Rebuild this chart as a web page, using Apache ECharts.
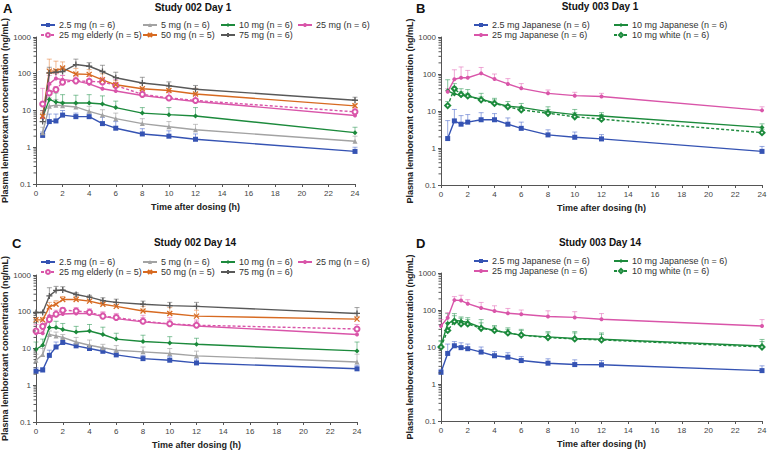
<!DOCTYPE html>
<html>
<head>
<meta charset="utf-8">
<title>Lemborexant PK</title>
<script src="https://cdn.jsdelivr.net/npm/echarts@6/dist/echarts.min.js"></script>
<style>
    html, body { margin: 0; padding: 0; background: #fff; }
    #chart { width: 767px; height: 450px; }
</style>
</head>
<body>
<div id="chart"></div>
<script>
// sampling times (h)
const timesDay1 = [0.5, 1, 1.5, 2, 3, 4, 5, 6, 8, 10, 12, 24];
const timesDay14 = [0, 0.5, 1, 1.5, 2, 3, 4, 5, 6, 8, 10, 12, 24];

const yTickLabels = ['0.1', '1', '10', '100', '1000'];

// Study 002 Day 1 (mean, upper error bar)
const s002d1Mg2_5 = [2.1, 5.0, 5.2, 7.5, 6.8, 6.8, 4.4, 3.3, 2.3, 2.0, 1.65, 0.77];
const s002d1Mg2_5Hi = [2.6, 8, 8, 10, 8.5, 8.5, 6.5, 5, 3.2, 2.8, 2.3, 1.0];
const s002d1Mg5 = [2.5, 13, 14, 13.5, 12.5, 9.5, 7.5, 6, 4.4, 3.6, 3.0, 1.45];
const s002d1Mg5Hi = [3.5, 22, 20, 17, 15, 13, 10.5, 8.5, 6, 5, 4.2, 2.0];
const s002d1Mg10 = [6.5, 20, 17, 16, 16, 16, 15, 12, 8.5, 7.7, 7.1, 2.5];
const s002d1Mg10Hi = [8, 35, 30, 27, 26, 27, 25, 18, 12, 12, 12, 3.5];
const s002d1Mg25 = [6.5, 53, 74, 69, 64, 53, 39, 34, 25.6, 21, 17.6, 7.3];
const s002d1Mg25Hi = [10, 90, 100, 90, 80, 70, 55, 50, 37, 33, 27, 9];
const s002d1Mg25Eld = [15, 30, 37, 59, 64, 62, 60, 48, 27.5, 22, 18.7, 9.2];
const s002d1Mg25EldHi = [40, 50, 45, 90, 90, 85, 80, 70, 40, 32, 28, 12];
const s002d1Mg50 = [7, 118, 120, 143, 98, 96, 68, 50, 39, 35, 28, 13.4];
const s002d1Mg50Hi = [9, 250, 220, 210, 140, 130, 100, 65, 55, 48, 40, 15];
const s002d1Mg75 = [5, 105, 110, 115, 178, 160, 115, 78, 56, 47, 38, 19];
const s002d1Mg75Hi = [10, 150, 130, 150, 250, 200, 170, 110, 80, 60, 48, 23];

// Study 003 Day 1
const s003d1Jp2_5 = [1.8, 5.4, 4.4, 5.0, 5.8, 5.8, 4.4, 3.4, 2.26, 1.95, 1.76, 0.81];
const s003d1Jp2_5Hi = [5.5, 11, 7.5, 8, 9, 8.5, 6.5, 5, 3.1, 2.7, 2.3, 1.1];
const s003d1Jp10 = [35, 29, 26.5, 25.5, 21, 16.5, 13.5, 12.5, 9.6, 8, 7.3, 3.6];
const s003d1Jp10Hi = [70, 45, 40, 38, 30, 22, 18, 16, 13, 11, 9, 4.5];
const s003d1Jp25 = [33, 72, 79, 79, 104, 73, 54, 41, 30, 26, 24.6, 10.4];
const s003d1Jp25Hi = [40, 130, 155, 125, 150, 100, 75, 55, 37, 32, 30, 13];
const s003d1Wh10 = [14, 40, 28, 25.5, 20, 16, 13, 10.7, 8.7, 7, 6.0, 2.6];
const s003d1Wh10Hi = [18, 55, 33, 30, 24, 20, 15, 13, 11, 9, 8, 3.2];

// Study 002 Day 14
const s002d14Mg2_5 = [2.4, 2.6, 6.5, 11, 14.6, 11.8, 10, 8.4, 6.7, 5.3, 4.8, 4.05, 2.8];
const s002d14Mg2_5Hi = [3, 3, 9, 15, 19, 14, 12, 10, 8.5, 6.5, 6, 5.2, 3.5];
const s002d14Mg5 = [4.8, 6.9, 24, 22, 20, 15, 12.3, 10.5, 9, 8.1, 7.3, 6.3, 4.3];
const s002d14Mg5Hi = [7, 10, 30, 28, 24, 20, 17, 13, 12, 11, 10, 8.5, 7];
const s002d14Mg10 = [9.4, 12.3, 37, 37, 33, 28, 30, 24, 18, 15.5, 14.2, 13, 8.6];
const s002d14Mg10Hi = [15, 18, 60, 55, 48, 40, 45, 38, 26, 23, 21, 19, 15];
const s002d14Mg25 = [26, 26, 76, 80, 87, 90, 89, 75, 65, 53, 46, 41, 24];
const s002d14Mg25Hi = [30, 30, 120, 110, 110, 105, 105, 95, 85, 70, 60, 55, 30];
const s002d14Mg25Eld = [30, 40, 62, 86, 110, 105, 97, 76, 70, 55, 47, 43, 34];
const s002d14Mg25EldHi = [45, 55, 80, 95, 130, 130, 120, 100, 90, 80, 70, 60, 45];
const s002d14Mg50 = [60, 60, 135, 160, 215, 215, 195, 160, 140, 105, 90, 76, 63];
const s002d14Mg50Hi = [70, 70, 180, 200, 260, 260, 250, 200, 180, 140, 130, 110, 75];
const s002d14Mg75 = [95, 95, 270, 380, 390, 295, 250, 200, 180, 160, 147, 140, 90];
const s002d14Mg75Hi = [100, 100, 450, 490, 480, 330, 280, 240, 220, 195, 180, 180, 130];

// Study 003 Day 14
const s003d14Jp2_5 = [2.07, 6.7, 10.8, 9.6, 9.0, 7.3, 5.8, 5.3, 4.3, 3.65, 3.35, 3.3, 2.3];
const s003d14Jp2_5Hi = [2.5, 12, 14, 13, 12, 10, 7.5, 7, 5.5, 4.8, 4.5, 4.3, 3.1];
const s003d14Jp10 = [10.6, 43, 53, 50, 46, 34, 28, 24, 21, 18.8, 17, 16.2, 10.6];
const s003d14Jp10Hi = [15, 80, 80, 65, 62, 55, 38, 33, 30, 26, 26, 24, 16];
const s003d14Jp25 = [37, 62, 185, 180, 148, 113, 94, 82, 77, 67, 63, 56, 37];
const s003d14Jp25Hi = [55, 85, 230, 250, 190, 160, 130, 110, 100, 95, 90, 80, 55];
const s003d14Wh10 = [10, 28, 49, 42, 42, 32, 28, 24, 21, 18, 16.5, 15.5, 10];
const s003d14Wh10Hi = [14, 45, 70, 60, 55, 45, 35, 30, 28, 24, 24, 22, 14];

// legend names
const n002 = ['2.5 mg (n = 6)', '5 mg (n = 6)', '10 mg (n = 6)', '25 mg (n = 6)',
    '25 mg elderly (n = 5)', '50 mg (n = 5)', '75 mg (n = 6)'];
const n003 = ['2.5 mg Japanese (n = 6)', '10 mg Japanese (n = 6)',
    '25 mg Japanese (n = 6)', '10 mg white (n = 6)'];

const FONT = 'Liberation Sans, Arial, sans-serif';

const styles = {
    blue: { color: '#3553b3', err: 'rgba(70, 100, 200, 0.55)', symbol: 'rect', size: 5 },
    gray: { color: '#a3a3a3', err: 'rgba(150, 150, 150, 0.55)', symbol: 'triangle', size: 5 },
    green: { color: '#1c8a3c', err: 'rgba(40, 150, 80, 0.55)', symbol: 'diamond', size: 5 },
    pink: { color: '#d955a9', err: 'rgba(225, 100, 180, 0.55)', symbol: 'circle', size: 4 },
    pinkOpen: { color: '#d955a9', err: 'rgba(225, 100, 180, 0.55)', symbol: 'emptyCircle', size: 5, dashed: true },
    orange: { color: '#d76a21', err: 'rgba(230, 130, 60, 0.55)', symbol: 'path://M0,0L10,10M10,0L0,10', size: 5, stroke: true },
    dark: { color: '#595959', err: 'rgba(90, 90, 90, 0.55)', symbol: 'path://M0,5L10,5M5,2L5,8', size: 6, stroke: true },
    greenOpen: { color: '#1c8a3c', err: 'rgba(40, 150, 80, 0.55)', symbol: 'emptyDiamond', size: 5, dashed: true }
};

// panel layout
const panels = [
    { left: 36, top: 37, width: 319, height: 147, letter: 'A', lx: 3, ly: 8, title: 'Study 002 Day 1', tx: 193, ty: 7 },
    { left: 441, top: 37, width: 321, height: 148, letter: 'B', lx: 416, ly: 8, title: 'Study 003 Day 1', tx: 600, ty: 6 },
    { left: 36, top: 275, width: 321, height: 147, letter: 'C', lx: 12, ly: 243, title: 'Study 002 Day 14', tx: 195, ty: 242 },
    { left: 441, top: 273, width: 321, height: 148, letter: 'D', lx: 416, ly: 243, title: 'Study 003 Day 14', tx: 600, ty: 242 }
];

const panelSeries = [
    [
        [n002[0], s002d1Mg2_5, s002d1Mg2_5Hi, 'blue'],
        [n002[1], s002d1Mg5, s002d1Mg5Hi, 'gray'],
        [n002[2], s002d1Mg10, s002d1Mg10Hi, 'green'],
        [n002[3], s002d1Mg25, s002d1Mg25Hi, 'pink'],
        [n002[4], s002d1Mg25Eld, s002d1Mg25EldHi, 'pinkOpen'],
        [n002[5], s002d1Mg50, s002d1Mg50Hi, 'orange'],
        [n002[6], s002d1Mg75, s002d1Mg75Hi, 'dark']
    ],
    [
        [n003[0], s003d1Jp2_5, s003d1Jp2_5Hi, 'blue'],
        [n003[1], s003d1Jp10, s003d1Jp10Hi, 'green'],
        [n003[2], s003d1Jp25, s003d1Jp25Hi, 'pink'],
        [n003[3], s003d1Wh10, s003d1Wh10Hi, 'greenOpen']
    ],
    [
        [n002[0], s002d14Mg2_5, s002d14Mg2_5Hi, 'blue'],
        [n002[1], s002d14Mg5, s002d14Mg5Hi, 'gray'],
        [n002[2], s002d14Mg10, s002d14Mg10Hi, 'green'],
        [n002[3], s002d14Mg25, s002d14Mg25Hi, 'pink'],
        [n002[4], s002d14Mg25Eld, s002d14Mg25EldHi, 'pinkOpen'],
        [n002[5], s002d14Mg50, s002d14Mg50Hi, 'orange'],
        [n002[6], s002d14Mg75, s002d14Mg75Hi, 'dark']
    ],
    [
        [n003[0], s003d14Jp2_5, s003d14Jp2_5Hi, 'blue'],
        [n003[1], s003d14Jp10, s003d14Jp10Hi, 'green'],
        [n003[2], s003d14Jp25, s003d14Jp25Hi, 'pink'],
        [n003[3], s003d14Wh10, s003d14Wh10Hi, 'greenOpen']
    ]
];
const panelTimes = [timesDay1, timesDay1, timesDay14, timesDay14];

// legend columns: [left, top, names]
const legendCols = [
    [40, 20, [n002[0], n002[4]]], [142, 20, [n002[1], n002[5]]],
    [220, 20, [n002[2], n002[6]]], [297, 20, [n002[3]]],
    [473, 20, [n003[0], n003[2]]], [613, 20, [n003[1], n003[3]]],
    [40, 257, [n002[0], n002[4]]], [142, 257, [n002[1], n002[5]]],
    [220, 257, [n002[2], n002[6]]], [297, 257, [n002[3]]],
    [473, 256, [n003[0], n003[2]]], [613, 256, [n003[1], n003[3]]]
];

// minor tick values of the log axis (2..9 in each decade)
const minorMultipliers = [2, 3, 4, 5, 6, 7, 8, 9];
const decades = [0.1, 1, 10, 100];

/**
 * 误差线（只画上方）
 */
function errorRenderer(color) {
    return (params, api) => {
        const p0 = api.coord([api.value(0), api.value(1)]);
        const p1 = api.coord([api.value(0), api.value(2)]);
        return {
            type: 'group',
            children: [
                { type: 'line', shape: { x1: p0[0], y1: p0[1], x2: p1[0], y2: p1[1] }, style: { stroke: color, lineWidth: 1 } },
                { type: 'line', shape: { x1: p1[0] - 2.5, y1: p1[1], x2: p1[0] + 2.5, y2: p1[1] }, style: { stroke: color, lineWidth: 1 } }
            ]
        };
    };
}

const grid = [];
const xAxis = [];
const yAxis = [];
const series = [];
const graphic = [];

panels.forEach((p, i) => {
    grid.push({ left: p.left, top: p.top, width: p.width, height: p.height, containLabel: false, outerBoundsMode: 'none' });
    xAxis.push({
        gridIndex: i,
        type: 'value',
        min: 0,
        max: 24,
        interval: 2,
        name: 'Time after dosing (h)',
        nameLocation: 'middle',
        nameGap: 18,
        nameTextStyle: { fontFamily: FONT, fontSize: 9, fontWeight: 'bold', color: '#222', verticalAlign: 'top' },
        axisLine: { lineStyle: { color: '#555', width: 1 } },
        axisTick: { show: true, length: 3, lineStyle: { color: '#555' } },
        axisLabel: { fontFamily: FONT, fontSize: 8, color: '#444', margin: 5 },
        splitLine: { show: false }
    });
    yAxis.push({
        gridIndex: i,
        type: 'log',
        logBase: 10,
        min: 0.1,
        max: 1000,
        name: 'Plasma lemborexant concentration (ng/mL)',
        nameLocation: 'middle',
        nameGap: 27,
        nameTextStyle: { fontFamily: FONT, fontSize: 9, fontWeight: 'bold', color: '#222' },
        axisLine: { show: true, lineStyle: { color: '#555', width: 1 } },
        axisTick: { show: true, length: 3, lineStyle: { color: '#555' } },
        axisLabel: {
            fontFamily: FONT,
            fontSize: 8,
            color: '#444',
            margin: 5,
            formatter: (v) => {
                const idx = Math.round(Math.log10(v)) + 1;
                return yTickLabels[idx] || '';
            }
        },
        splitLine: { show: false }
    });

    graphic.push({
        type: 'text', left: p.lx, top: p.ly - 6,
        style: { text: p.letter, font: 'bold 13px ' + FONT, fill: '#111' }
    });
    graphic.push({
        type: 'text', x: p.tx, y: p.ty,
        style: { text: p.title, font: 'bold 10px ' + FONT, fill: '#111', textAlign: 'center', textVerticalAlign: 'middle' }
    });

    const times = panelTimes[i];
    panelSeries[i].forEach(([name, mean, hi, key]) => {
        const st = styles[key];
        series.push({
            type: 'custom',
            name: 'err-' + i + '-' + name,
            xAxisIndex: i,
            yAxisIndex: i,
            z: 1,
            silent: true,
            renderItem: errorRenderer(st.err),
            encode: { x: 0, y: [1, 2] },
            data: times.map((t, k) => [t, mean[k], hi[k]])
        });
        series.push({
            type: 'line',
            name,
            xAxisIndex: i,
            yAxisIndex: i,
            z: 3,
            symbol: st.symbol,
            symbolSize: st.size,
            showAllSymbol: true,
            lineStyle: { color: st.color, width: 1.4, type: st.dashed ? [3, 2] : 'solid' },
            itemStyle: st.stroke
                ? { color: st.color, borderColor: st.color, borderWidth: 1.3 }
                : { color: st.color, borderColor: st.color, borderWidth: st.symbol.startsWith('empty') ? 1.3 : 0 },
            emphasis: { disabled: true },
            animation: false,
            data: times.map((t, k) => [t, mean[k]])
        });
    });
});

const legend = legendCols.map(([left, top, names]) => ({
    left,
    top,
    orient: 'vertical',
    padding: 0,
    itemGap: 0,
    itemWidth: 14,
    itemHeight: 5,
    selectedMode: false,
    textStyle: { fontFamily: FONT, fontSize: 9, color: '#333', lineHeight: 10, padding: [0, 0, 0, -1] },
    data: names
}));

const chart = echarts.init(document.getElementById('chart'), null, { renderer: 'svg' });
chart.setOption({
    backgroundColor: '#fff',
    animation: false,
    textStyle: { fontFamily: FONT },
    grid,
    xAxis,
    yAxis,
    legend,
    graphic,
    series
});

// 对数轴次刻度：用坐标轴换算位置后补画
const minorTicks = [];
panels.forEach((p, i) => {
    decades.forEach((d) => {
        minorMultipliers.forEach((m) => {
            const pt = chart.convertToPixel({ gridIndex: i }, [0, d * m]);
            if (!pt) {
                return;
            }
            minorTicks.push({
                type: 'line',
                silent: true,
                z: 10,
                shape: { x1: pt[0] - 2.5, y1: pt[1], x2: pt[0], y2: pt[1] },
                style: { stroke: '#555', lineWidth: 1 }
            });
        });
    });
});
chart.setOption({ graphic: graphic.concat(minorTicks) });
</script>
</body>
</html>
